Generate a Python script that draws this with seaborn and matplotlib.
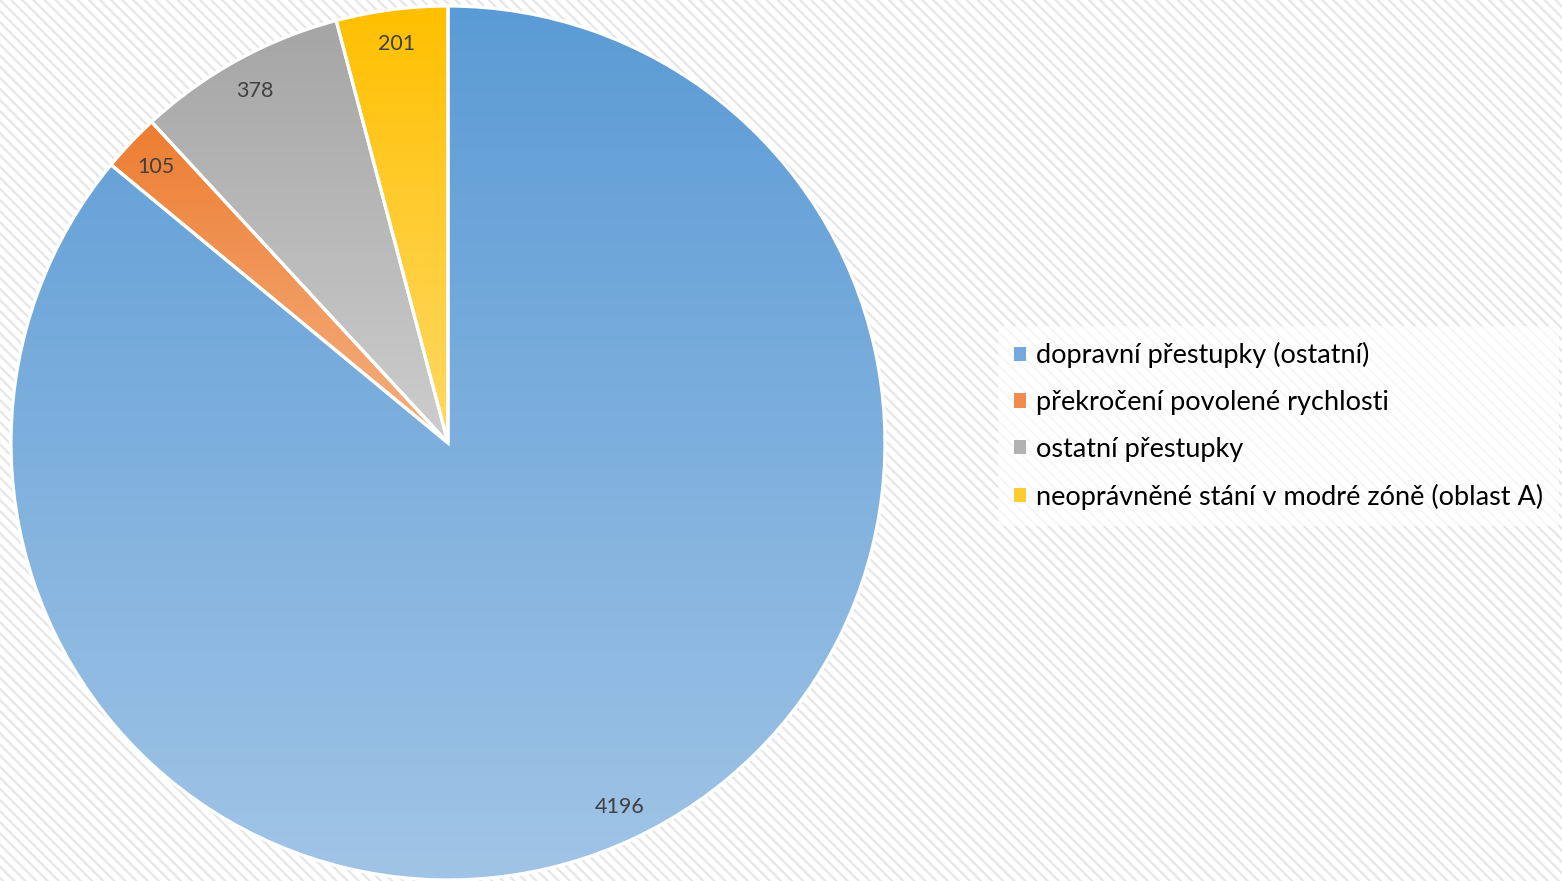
import numpy as np
import matplotlib
matplotlib.use("Agg")
import matplotlib.pyplot as plt
import seaborn as sns
from matplotlib.patches import Rectangle, Patch
from matplotlib.colors import LinearSegmentedColormap

categories = ["dopravní přestupky (ostatní)", "překročení povolené rychlosti",
              "ostatní přestupky", "neoprávněné stání v modré zóně (oblast A)"]
values = [4196, 105, 378, 201]
top_colors = ["#5B9BD5", "#ED7D31", "#A5A5A5", "#FFC000"]
bottom_colors = ["#A0C4E6", "#F4B183", "#CDCDCD", "#FFD966"]
mid_colors = ["#73A9DB", "#EF8D4E", "#B2B2B2", "#FFCB33"]

sns.set_theme(style="white")
plt.rcParams["font.family"] = ["Lato", "DejaVu Sans"]
plt.rcParams["hatch.linewidth"] = 1.6

W, H = 1562, 881
fig = plt.figure(figsize=(W / 100, H / 100), dpi=100)
fig.patch.set_facecolor("white")
fig.add_artist(Rectangle((0, 0), 1, 1, transform=fig.transFigure, facecolor="white",
                         edgecolor="#E6E6E6", hatch="\\\\\\", lw=0, zorder=-10))

cx, cy, r = 448, 443, 437
ax = fig.add_axes([(cx - r) / W, (H - cy - r) / H, 2 * r / W, 2 * r / H])
ax.set_facecolor("none")

total = sum(values)

def fmt(p):
    return f"{int(round(p * total / 100))}"

wedges, texts, autotexts = ax.pie(values, startangle=90, counterclock=False, autopct=fmt,
                                  pctdistance=0.92, radius=1,
                                  wedgeprops=dict(edgecolor="white", linewidth=2.3),
                                  textprops=dict(color="#404040", fontsize=15.5))

grad = np.linspace(0, 1, 256).reshape(-1, 1)
for w, c0, c1 in zip(wedges, top_colors, bottom_colors):
    ext = w.get_path().get_extents()
    cmap = LinearSegmentedColormap.from_list("g", [c0, c1])
    im = ax.imshow(grad, cmap=cmap, extent=[ext.x0, ext.x1, ext.y0, ext.y1],
                   origin="upper", aspect="auto", interpolation="bicubic", zorder=1)
    im.set_clip_path(w)
    w.set_facecolor("none")
    w.set_zorder(2)
for t in autotexts:
    t.set_zorder(5)

ax.set_xlim(-1, 1)
ax.set_ylim(-1, 1)
ax.set_axis_off()

handles = [Patch(facecolor=c, edgecolor="none") for c in mid_colors]
leg = fig.legend(handles, categories, loc="center left", bbox_to_anchor=(998 / W, 1 - 426 / H),
                 fontsize=19.5, frameon=True, framealpha=0.7, facecolor="white", edgecolor="none",
                 handlelength=0.42, handleheight=0.42, handletextpad=0.38, labelspacing=0.8,
                 borderpad=0.6, borderaxespad=0, fancybox=False)
for t in leg.get_texts():
    t.set_color("#000000")

fig.savefig("out.png", dpi=100)
